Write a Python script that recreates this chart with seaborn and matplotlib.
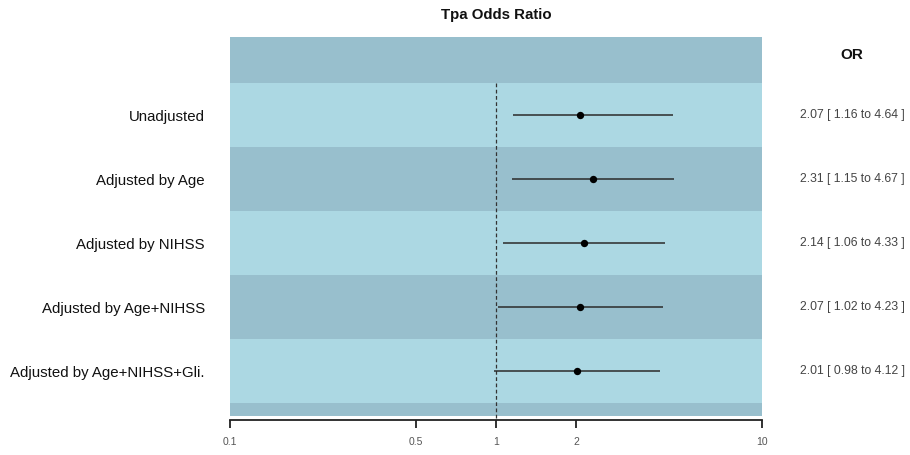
import matplotlib
matplotlib.use("Agg")
import matplotlib.pyplot as plt
import matplotlib.transforms as mtransforms
import seaborn as sns
import pandas as pd
import numpy as np

# ---- data ----
models = ["Unadjusted", "Adjusted by Age", "Adjusted by NIHSS",
          "Adjusted by Age+NIHSS", "Adjusted by Age+NIHSS+Gli."]
odds_ratio = [2.07, 2.31, 2.14, 2.07, 2.01]
ci_low = [1.16, 1.15, 1.06, 1.02, 0.98]
ci_high = [4.64, 4.67, 4.33, 4.23, 4.12]
xticks = [0.1, 0.5, 1, 2, 10]
xtick_labels = ["0.1", "0.5", "1", "2", "10"]

df = pd.DataFrame({"model": models, "OR": odds_ratio, "lo": ci_low, "hi": ci_high})
df["pos"] = np.arange(1, len(models) + 1)

sns.set_theme(style="white")
plt.rcParams["font.family"] = ["Liberation Sans", "DejaVu Sans"]

dark = "#98bfcd"
light = "#acd8e3"

fig = plt.figure(figsize=(9.1, 4.55), dpi=100)
ax = fig.add_axes([230 / 910, 1 - 416 / 455, (762 - 230) / 910, (416 - 37) / 455])

ytop, ybot = -0.22, 5.7
# background bands
ax.axhspan(ytop, 0.5, color=dark, lw=0, zorder=0)
for i, p in enumerate(df["pos"]):
    ax.axhspan(p - 0.5, p + 0.5, color=light if i % 2 == 0 else dark, lw=0, zorder=0)
ax.axhspan(5.5, ybot, color=dark, lw=0, zorder=0)

# reference line
ax.plot([1, 1], [0.5, ybot + 0.06], ls=(0, (3, 2)), color="#333333", lw=0.9,
        zorder=1, clip_on=False)

# CIs and points
ax.hlines(df["pos"], df["lo"], df["hi"], color="#2b2b2b", lw=1.1, zorder=2)
sns.scatterplot(data=df, x="OR", y="pos", ax=ax, color="black", s=28,
                edgecolor="black", linewidth=0, zorder=3, legend=False)

ax.set_xscale("log")
ax.set_xlim(0.1, 10)
ax.set_ylim(ybot, ytop)
ax.xaxis.set_minor_locator(matplotlib.ticker.NullLocator())
ax.set_xticks(xticks)
ax.set_xticklabels(xtick_labels)
ax.set_yticks(df["pos"])
ax.set_yticklabels(df["model"])
ax.tick_params(axis="y", length=0, pad=18, labelsize=10.8, labelcolor="#111111")
ax.tick_params(axis="x", bottom=True, length=6, width=1.3, color="#222222", pad=6,
               direction="out", labelsize=7.5, labelcolor="#555555")
ax.set_xlabel("")
ax.set_ylabel("")
for s in ["top", "right", "left"]:
    ax.spines[s].set_visible(False)
ax.spines["bottom"].set_position(("outward", 3))
ax.spines["bottom"].set_color("#222222")
ax.spines["bottom"].set_linewidth(1.3)

# title
fig.text(496 / 910, 1 - 15 / 455, "Tpa Odds Ratio", ha="center", va="center",
         fontsize=10.8, fontweight="bold", color="#111111")

# right column
trans = mtransforms.blended_transform_factory(fig.transFigure, ax.transData)
ax.text(852 / 910, 1 - 55 / 455, "OR", transform=fig.transFigure, ha="center",
        va="center", fontsize=11, fontweight="bold", color="#111111")
for p, o, l, h in zip(df["pos"], odds_ratio, ci_low, ci_high):
    ax.text(852 / 910, p, f"{o:.2f} [ {l:.2f} to {h:.2f} ]", transform=trans,
            ha="center", va="center", fontsize=8.8, color="#444444", clip_on=False)

fig.savefig("out.png", dpi=100, facecolor="white")
